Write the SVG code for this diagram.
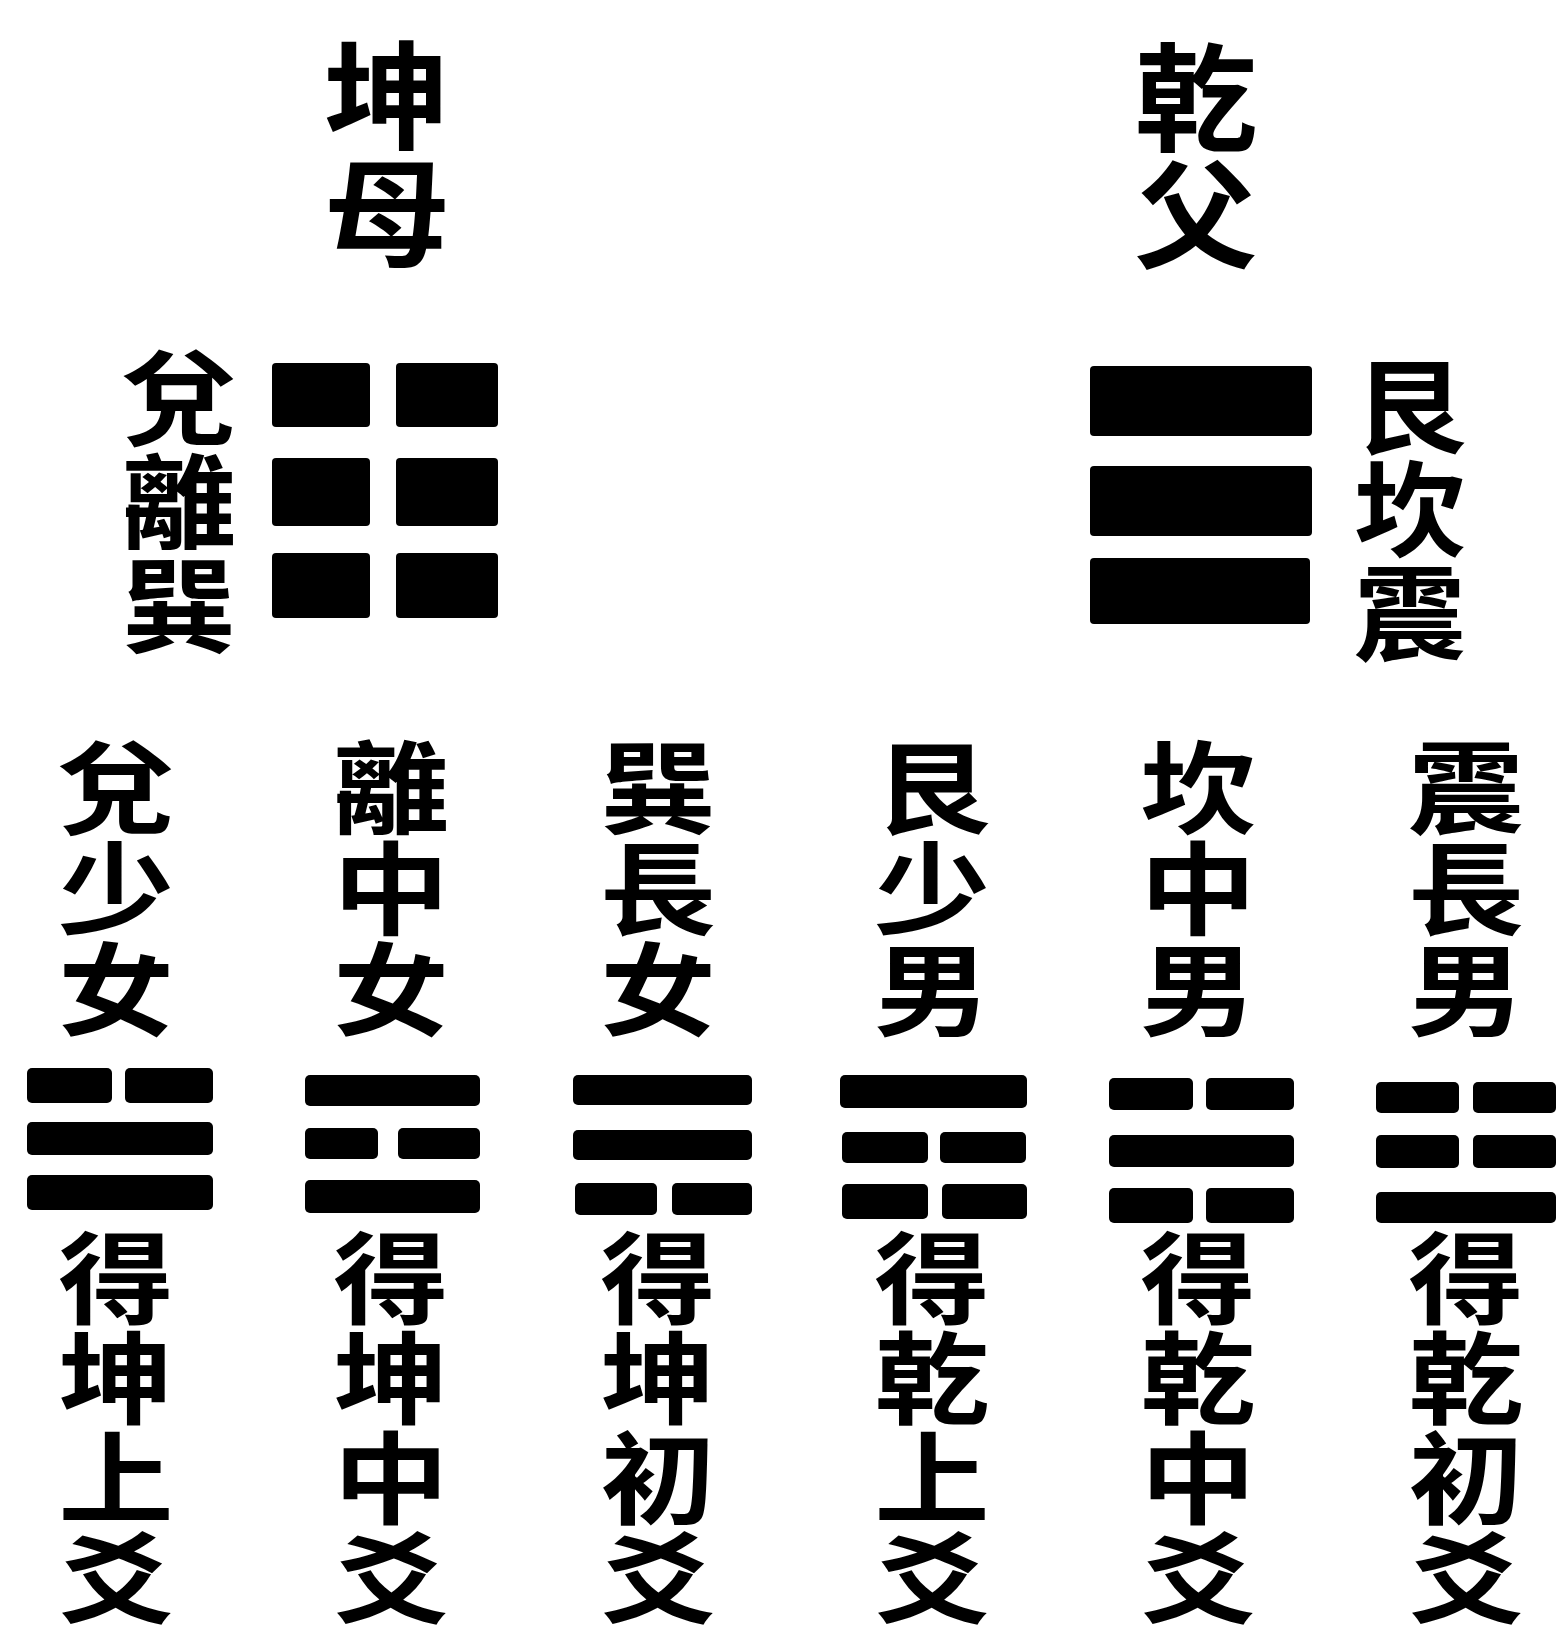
<svg xmlns="http://www.w3.org/2000/svg" width="1556" height="1650" viewBox="0 0 1556 1650">
<style>
.t{font-family:"Noto Sans CJK TC","Noto Sans CJK SC",sans-serif;font-weight:700;fill:#000;writing-mode:vertical-rl;text-anchor:start}
.big{font-size:117px}
.mid{font-size:104px}
.top3{font-size:101px}
.sm{font-size:100px}
.bar{fill:#000}
</style>
<rect width="1556" height="1650" fill="#fff"/>

<g id="kun-mother">
<g transform="translate(387,0) scale(1.08,1)"><text class="t big" x="0" y="37">坤母</text></g>
</g>
<g id="qian-father">
<g transform="translate(1196,0) scale(1.05,1)"><text class="t big" x="0" y="39">乾父</text></g>
</g>

<g id="daughters-label">
<g transform="translate(179,0) scale(1.1,1)"><text class="t mid" x="0" y="345">兌離巽</text></g>
</g>
<g id="kun-trigram">
<rect class="bar" x="272" y="363" width="98" height="64" rx="4"/>
<rect class="bar" x="396" y="363" width="102" height="64" rx="4"/>
<rect class="bar" x="272" y="458" width="98" height="68" rx="4"/>
<rect class="bar" x="396" y="458" width="102" height="68" rx="4"/>
<rect class="bar" x="272" y="553" width="98" height="65" rx="4"/>
<rect class="bar" x="396" y="553" width="102" height="65" rx="4"/>
</g>

<g id="qian-trigram">
<rect class="bar" x="1090" y="366" width="222" height="70" rx="4"/>
<rect class="bar" x="1090" y="466" width="222" height="70" rx="4"/>
<rect class="bar" x="1090" y="558" width="220" height="66" rx="4"/>
</g>
<g id="sons-label">
<g transform="translate(1410,0) scale(1.08,1)"><text class="t mid" x="0" y="354">艮坎震</text></g>
</g>

<g id="dui">
<g transform="translate(116,0) scale(1.15,1)">
<text class="t top3" x="0" y="737">兌少女</text>
<text class="t sm" x="0" y="1228">得坤上爻</text>
</g>
<rect class="bar" x="27" y="1068" width="85" height="35" rx="5"/>
<rect class="bar" x="125" y="1068" width="88" height="35" rx="5"/>
<rect class="bar" x="27" y="1122" width="186" height="33" rx="5"/>
<rect class="bar" x="27" y="1175" width="186" height="35" rx="5"/>
</g>

<g id="li">
<g transform="translate(391,0) scale(1.15,1)">
<text class="t top3" x="0" y="737">離中女</text>
<text class="t sm" x="0" y="1228">得坤中爻</text>
</g>
<rect class="bar" x="305" y="1075" width="175" height="31" rx="5"/>
<rect class="bar" x="305" y="1128" width="73" height="31" rx="5"/>
<rect class="bar" x="398" y="1128" width="82" height="31" rx="5"/>
<rect class="bar" x="305" y="1180" width="175" height="33" rx="5"/>
</g>

<g id="xun">
<g transform="translate(658,0) scale(1.15,1)">
<text class="t top3" x="0" y="737">巽長女</text>
<text class="t sm" x="0" y="1228">得坤初爻</text>
</g>
<rect class="bar" x="573" y="1075" width="179" height="30" rx="5"/>
<rect class="bar" x="573" y="1130" width="179" height="30" rx="5"/>
<rect class="bar" x="575" y="1183" width="82" height="32" rx="5"/>
<rect class="bar" x="672" y="1183" width="80" height="32" rx="5"/>
</g>

<g id="gen">
<g transform="translate(932,0) scale(1.15,1)">
<text class="t top3" x="0" y="737">艮少男</text>
<text class="t sm" x="0" y="1228">得乾上爻</text>
</g>
<rect class="bar" x="840" y="1075" width="187" height="33" rx="5"/>
<rect class="bar" x="842" y="1132" width="86" height="31" rx="5"/>
<rect class="bar" x="940" y="1132" width="86" height="31" rx="5"/>
<rect class="bar" x="842" y="1184" width="86" height="35" rx="5"/>
<rect class="bar" x="942" y="1184" width="85" height="35" rx="5"/>
</g>

<g id="kan">
<g transform="translate(1198,0) scale(1.15,1)">
<text class="t top3" x="0" y="737">坎中男</text>
<text class="t sm" x="0" y="1228">得乾中爻</text>
</g>
<rect class="bar" x="1109" y="1078" width="84" height="32" rx="5"/>
<rect class="bar" x="1206" y="1078" width="88" height="32" rx="5"/>
<rect class="bar" x="1109" y="1135" width="185" height="32" rx="5"/>
<rect class="bar" x="1109" y="1188" width="84" height="35" rx="5"/>
<rect class="bar" x="1206" y="1188" width="88" height="35" rx="5"/>
</g>

<g id="zhen">
<g transform="translate(1466,0) scale(1.15,1)">
<text class="t top3" x="0" y="737">震長男</text>
<text class="t sm" x="0" y="1228">得乾初爻</text>
</g>
<rect class="bar" x="1376" y="1082" width="83" height="31" rx="5"/>
<rect class="bar" x="1473" y="1082" width="83" height="31" rx="5"/>
<rect class="bar" x="1376" y="1135" width="83" height="33" rx="5"/>
<rect class="bar" x="1473" y="1135" width="83" height="33" rx="5"/>
<rect class="bar" x="1376" y="1192" width="180" height="31" rx="5"/>
</g>
</svg>
